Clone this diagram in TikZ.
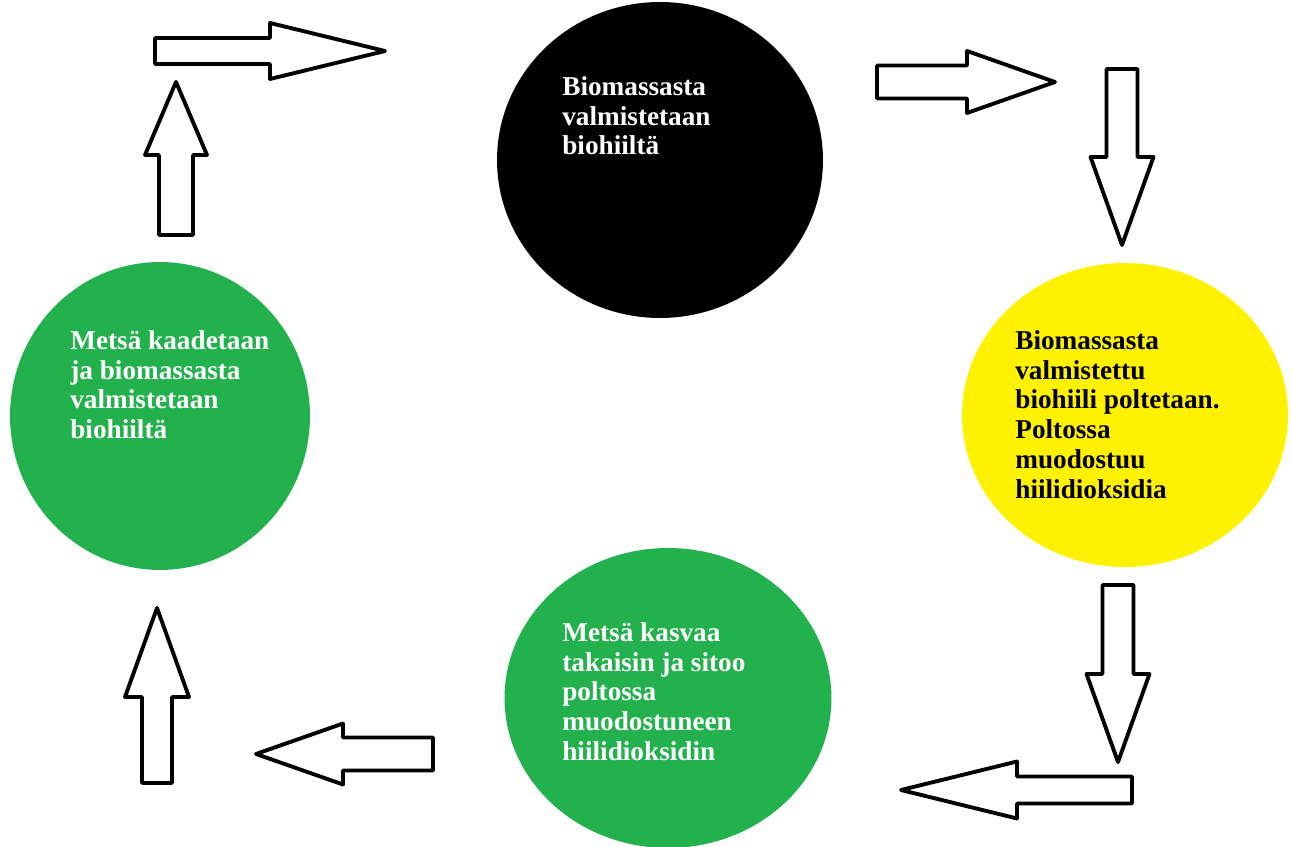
\documentclass[tikz,border=0pt]{standalone}
\usepackage{fontspec}
\setmainfont{Liberation Serif}
\usetikzlibrary{shapes.geometric}
\definecolor{paintgreen}{HTML}{22B14C}
\definecolor{paintyellow}{HTML}{FFF200}
\tikzset{
  circ/.style={ellipse, inner sep=0pt},
  teksti/.style={anchor=north west, inner sep=0pt, align=left, font=\fontsize{15.5}{17}\selectfont\bfseries},
  nuoli/.style={draw=black, fill=white, line width=2.2pt, line join=round},
  pics/blockarrow/.style args={#1/#2/#3/#4}{code={
    \draw[nuoli] (0,-#2) -- (#1,-#2) -- (#1,-#4) -- ({#1+#3},0) -- (#1,#4) -- (#1,#2) -- (0,#2) -- cycle;}}
}
\begin{document}
\begin{tikzpicture}[x=0.02cm, y=-0.02cm]
	 \fill[white] (0,0) rectangle (1292,847);
	 \useasboundingbox (0,0) rectangle (1292,847);
	 \node[circ, fill=black, minimum width=6.52cm, minimum height=6.32cm] (hiili) at (660,160) {};
	 \node[circ, fill=paintyellow, minimum width=6.52cm, minimum height=6.08cm] (poltto) at (1125,415) {};
	 \node[circ, fill=paintgreen, minimum width=6.54cm, minimum height=6.0cm] (kasvu) at (668,698) {};
	 \node[circ, fill=paintgreen, minimum width=6.0cm, minimum height=6.16cm] (kaato) at (160,416) {};
	 \node[teksti, text=white] (hiiliteksti) at (562,76) {Biomassasta\\valmistetaan\\biohiiltä};
	 \node[teksti, text=black] (polttoteksti) at (1015,330) {Biomassasta\\valmistettu\\biohiili poltetaan.\\Poltossa\\muodostuu\\hiilidioksidia};
	 \node[teksti, text=white] (kasvuteksti) at (562,622) {Metsä kasvaa\\takaisin ja sitoo\\poltossa\\muodostuneen\\hiilidioksidin};
	 \node[teksti, text=white] (kaatoteksti) at (70,330) {Metsä kaadetaan\\ja biomassasta\\valmistetaan\\biohiiltä};
	 \pic (nuoli1) at (155,51) {blockarrow=115/13/115/28};
	 \pic[rotate=90] (nuoli2) at (176,235) {blockarrow=80/17/73/31};
	 \pic (nuoli3) at (877,82) {blockarrow=90/16.5/88/31};
	 \pic[rotate=-90] (nuoli4) at (1122,69) {blockarrow=88/15.5/88/31.5};
	 \pic[rotate=-90] (nuoli5) at (1118,585) {blockarrow=89/15.5/88/31.5};
	 \pic[rotate=180] (nuoli6) at (1132,790) {blockarrow=115/13.5/116/28.5};
	 \pic[rotate=180] (nuoli7) at (433,754) {blockarrow=90/16.5/87/30.5};
	 \pic[rotate=90] (nuoli8) at (157,783) {blockarrow=86/15/89/32};
\end{tikzpicture}
\end{document}
